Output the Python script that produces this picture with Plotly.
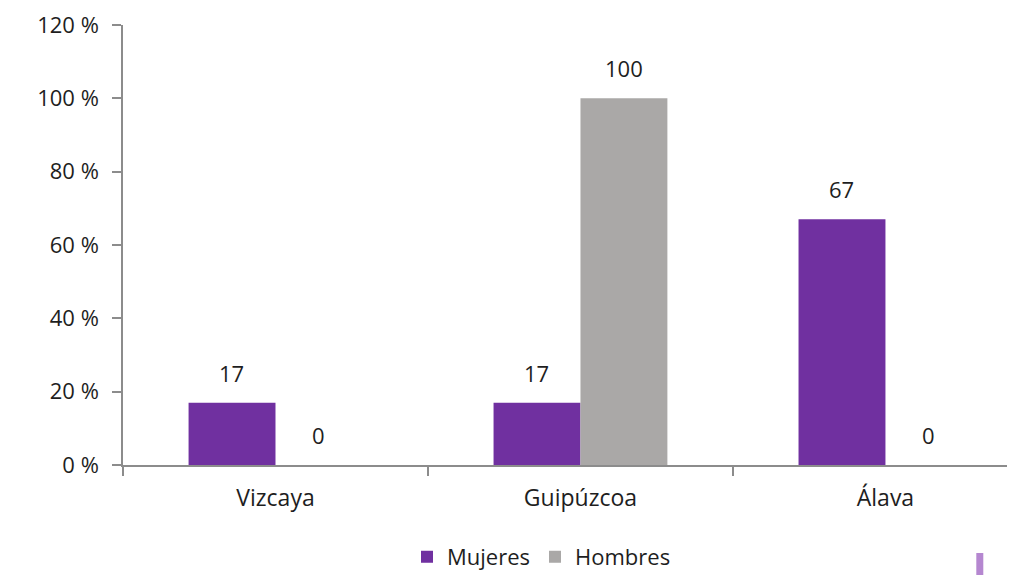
import plotly.graph_objects as go

categories = ["Vizcaya", "Guipúzcoa", "Álava"]
mujeres = [17, 17, 67]
hombres = [0, 100, 0]
y_ticks = [0, 20, 40, 60, 80, 100, 120]
y_tick_labels = ["0 %", "20 %", "40 %", "60 %", "80 %", "100 %", "120 %"]

FONT = "'Open Sans', Lato, sans-serif"
PURPLE = "#7030A0"
GRAY = "#AAA8A7"
AXIS = "#8C8C8C"
TXT = "#1E1E1E"

fig = go.Figure()
fig.add_trace(go.Bar(name="Mujeres", x=categories, y=mujeres, marker_color=PURPLE,
                     marker_line_width=0))
fig.add_trace(go.Bar(name="Hombres", x=categories, y=hombres, marker_color=GRAY,
                     marker_line_width=0))

annotations = []
for series, shift in ((mujeres, -43.5), (hombres, 43.5)):
    for c, v in zip(categories, series):
        annotations.append(dict(x=c, y=v, xref="x", yref="y", text=str(v), showarrow=False,
                                xshift=shift, yshift=13, yanchor="bottom",
                                font=dict(family=FONT, size=22, color=TXT)))

fig.update_layout(
    width=1015, height=575,
    margin=dict(l=115, r=0, t=17, b=118),
    paper_bgcolor="white", plot_bgcolor="white",
    barmode="group", bargap=0.43, bargroupgap=0,
    font=dict(family=FONT, size=22, color=TXT),
    showlegend=True,
    legend=dict(orientation="h", x=0.465, xanchor="center", y=-0.209, yanchor="middle",
                font=dict(family=FONT, size=22, color=TXT),
                itemwidth=30, traceorder="normal"),
    annotations=annotations,
    shapes=[dict(type="line", xref="paper", yref="paper", x0=0.952, x1=0.952,
                 y0=-0.2, y1=-0.26, line=dict(color="#B587D0", width=7))],
)
fig.update_xaxes(
    range=[-0.5, 2.451], showline=True, linecolor=AXIS, linewidth=1.5,
    ticks="outside", tickson="boundaries", ticklen=9, tickcolor=AXIS, tickwidth=1.5,
    showgrid=False, tickfont=dict(family=FONT, size=23, color=TXT),
    ticklabelstandoff=12,
)
fig.update_yaxes(
    range=[0, 120], tickvals=y_ticks, ticktext=y_tick_labels, showline=True,
    linecolor=AXIS, linewidth=1.5, ticks="outside", ticklen=9, tickcolor=AXIS,
    tickwidth=1.5, showgrid=False, zeroline=False,
    tickfont=dict(family=FONT, size=22, color=TXT), ticklabelstandoff=9,
)

fig.write_html("out.html")
